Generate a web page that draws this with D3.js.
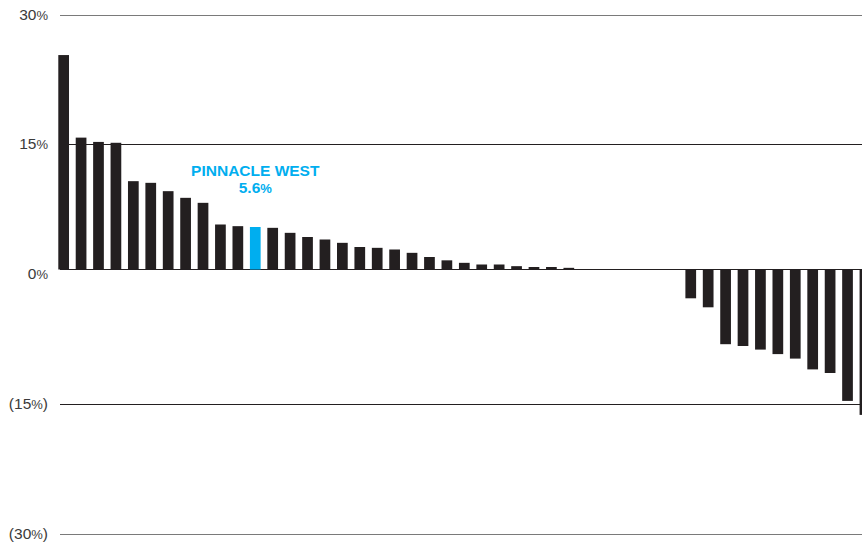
<!DOCTYPE html>
<html>
<head>
<meta charset="utf-8">
<script src="https://cdn.jsdelivr.net/npm/d3@7"></script>
<style>
  body { margin: 0; background: #fff; }
  text { font-family: "Liberation Sans", Arial, sans-serif; }
</style>
</head>
<body>
<div id="container"></div>
<script>
// peer companies, ranked by total return; only Pinnacle West is named
var categories = d3.range(47).map(function(i) { return "peer" + (i + 1); });
categories[11] = "Pinnacle West";

var values = [
  25.4, 15.8, 15.3, 15.2, 10.6, 10.4, 9.4, 8.6, 8.0, 5.4,
  5.2, 5.1, 5.0, 4.4, 3.9, 3.6, 3.2, 2.7, 2.6, 2.4,
  2.0, 1.5, 1.1, 0.8, 0.6, 0.6, 0.4, 0.3, 0.3, 0.2,
  0.05, 0, 0, 0, 0, 0, -3.2, -4.2, -8.3, -8.5,
  -8.9, -9.4, -9.9, -11.1, -11.5, -14.6, -16.2
];

var tickValues = [30, 15, 0, -15, -30];
var tickLabels = ["30", "15", "0", "(15", "(30"];

var highlight = "Pinnacle West";
var highlightName = "PINNACLE WEST";
var highlightValue = "5.6";

var w = 862, h = 543;

var svg = d3.select("#container").append("svg")
  .attr("width", w)
  .attr("height", h);

// the printed gridlines are not quite evenly spaced, so map each tick
var y = d3.scaleLinear()
  .domain(tickValues)
  .range([15.5, 144.5, 269.5, 404.5, 534.5]);

var x = d3.scaleBand()
  .domain(categories)
  .range([58.3, 870.3])
  .paddingInner(0.385)
  .paddingOuter(0);

// gridlines
svg.append("g").selectAll("line")
  .data(tickValues)
  .enter().append("line")
  .attr("x1", 60)
  .attr("x2", w)
  .attr("y1", function(d) { return y(d); })
  .attr("y2", function(d) { return y(d); })
  .attr("stroke", function(d) { return Math.abs(d) == 30 ? "#7a7a7a" : "#231f20"; })
  .attr("stroke-width", 1.2);

// tick labels
var lab = svg.append("g").selectAll("text")
  .data(tickValues)
  .enter().append("text")
  .attr("x", 48)
  .attr("y", function(d) { return y(d) + (d == 0 ? 9.5 : 4.5); })
  .attr("text-anchor", "end")
  .attr("fill", "#3a3a3a")
  .attr("font-size", 15.5);
lab.append("tspan").text(function(d, i) { return tickLabels[i]; });
lab.append("tspan").attr("font-size", 13).text("%");
lab.filter(function(d) { return d < 0; }).append("tspan").text(")");

// bars
svg.append("g").selectAll("rect")
  .data(values)
  .enter().append("rect")
  .attr("x", function(d, i) { return x(categories[i]); })
  .attr("width", x.bandwidth())
  .attr("y", function(d) { return Math.min(y(d), y(0)); })
  .attr("height", function(d) { return Math.abs(y(d) - y(0)); })
  .attr("fill", function(d, i) { return categories[i] == highlight ? "#00aeef" : "#231f20"; });

// callout
var cx = x(highlight) + x.bandwidth() / 2;
var callout = svg.append("g")
  .attr("fill", "#00aeef")
  .attr("font-weight", "bold")
  .attr("text-anchor", "middle");
callout.append("text")
  .attr("x", cx)
  .attr("y", 175.5)
  .attr("font-size", 15.5)
  .text(highlightName);
var val = callout.append("text")
  .attr("x", cx)
  .attr("y", 192.5)
  .attr("font-size", 15.5);
val.append("tspan").text(highlightValue);
val.append("tspan").attr("font-size", 13).text("%");
</script>
</body>
</html>
